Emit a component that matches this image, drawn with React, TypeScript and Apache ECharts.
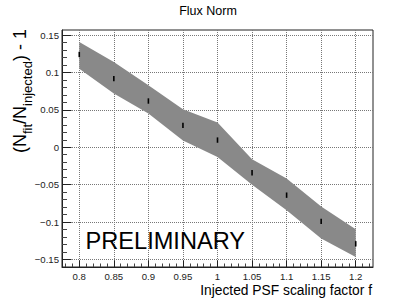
import React, { useEffect, useRef } from "react";
import * as echarts from "echarts";

const fScale = [0.8, 0.85, 0.9, 0.95, 1.0, 1.05, 1.1, 1.15, 1.2];
const fitBias = [0.124, 0.0917, 0.0618, 0.0293, 0.0096, -0.034, -0.064, -0.099, -0.129];
const fitErr = [0.0036, 0.0036, 0.0036, 0.0036, 0.0036, 0.0036, 0.0036, 0.0036, 0.0036];
const bandUpper = [0.1406, 0.114, 0.0828, 0.0507, 0.033, -0.016, -0.0416, -0.079, -0.1096];
const bandLower = [0.105, 0.0717, 0.045, 0.0092, -0.013, -0.05, -0.084, -0.122, -0.1465];

const xMajorTicks = [0.8, 0.85, 0.9, 0.95, 1.0, 1.05, 1.1, 1.15, 1.2];
const yMajorTicks = [-0.15, -0.1, -0.05, 0, 0.05, 0.1, 0.15];

const titleText = "Flux Norm";
const xAxisTitle = "Injected PSF scaling factor f";
const watermark = "PRELIMINARY";

const X_MIN = 0.775;
const X_MAX = 1.225;
const Y_MIN = -0.16;
const Y_MAX = 0.1567;

const FONT = "'Liberation Sans', Arial, Helvetica, sans-serif";

function minorTicks(lo: number, hi: number, majors: number[]) {
  const out: number[] = [];
  for (let k = Math.ceil(lo * 100); k <= Math.floor(hi * 100); k++) {
    const v = k / 100;
    if (v <= lo || v >= hi) continue;
    if (majors.some((m) => Math.abs(m - v) < 1e-9)) continue;
    out.push(v);
  }
  return out;
}

const fmt = (v: number) => {
  const r = Math.round(v * 100) / 100;
  if (r === 0) return "0";
  return String(r).replace("-", "\u2212");
};

export default function App() {
  const ref = useRef<HTMLDivElement>(null);
  useEffect(() => {
    if (!ref.current) return;
    const chart = echarts.init(ref.current, undefined, { renderer: "svg" });
    const xMinor = minorTicks(X_MIN, X_MAX, xMajorTicks);
    const yMinor = minorTicks(Y_MIN, Y_MAX, yMajorTicks);

    const gridLine = { show: true, lineStyle: { color: "#777", type: [1, 1] as any, width: 1 } };

    chart.setOption({
      animation: false,
      textStyle: { fontFamily: FONT },
      grid: {
        left: 62,
        top: 30,
        right: 42,
        bottom: 32,
        show: true,
        borderColor: "#222",
        borderWidth: 1,
        containLabel: false,
        outerBoundsMode: "none",
      },
      xAxis: [
        {
          type: "value",
          min: X_MIN,
          max: X_MAX,
          position: "bottom",
          axisLine: { show: true, onZero: false, lineStyle: { color: "#222", width: 1 } },
          axisTick: {
            show: true,
            inside: true,
            length: 6.5,
            customValues: xMajorTicks,
            lineStyle: { color: "#222", width: 1 },
          },
          axisLabel: {
            show: true,
            customValues: xMajorTicks,
            formatter: fmt,
            fontSize: 9.6,
            color: "#222",
            margin: 4,
            fontFamily: FONT,
          },
          splitLine: gridLine,
        },
        {
          type: "value",
          min: X_MIN,
          max: X_MAX,
          position: "bottom",
          axisLine: { show: false, onZero: false },
          axisTick: {
            show: true,
            inside: true,
            length: 3.5,
            customValues: xMinor,
            lineStyle: { color: "#444", width: 1 },
          },
          axisLabel: { show: false },
          splitLine: { show: false },
        },
      ],
      yAxis: [
        {
          type: "value",
          min: Y_MIN,
          max: Y_MAX,
          position: "left",
          axisLine: { show: true, onZero: false, lineStyle: { color: "#222", width: 1 } },
          axisTick: {
            show: true,
            inside: true,
            length: 9.5,
            customValues: yMajorTicks,
            lineStyle: { color: "#222", width: 1 },
          },
          axisLabel: {
            show: true,
            customValues: yMajorTicks,
            formatter: fmt,
            fontSize: 9.6,
            color: "#222",
            margin: 3,
            fontFamily: FONT,
          },
          splitLine: gridLine,
        },
        {
          type: "value",
          min: Y_MIN,
          max: Y_MAX,
          position: "left",
          axisLine: { show: false, onZero: false },
          axisTick: {
            show: true,
            inside: true,
            length: 5,
            customValues: yMinor,
            lineStyle: { color: "#444", width: 1 },
          },
          axisLabel: { show: false },
          splitLine: { show: false },
        },
      ],
      series: [
        {
          type: "custom",
          xAxisIndex: 0,
          yAxisIndex: 0,
          silent: true,
          z: 2,
          data: [[fScale[0], bandUpper[0]]],
          encode: { x: 0, y: 1 },
          renderItem: (_params: any, api: any) => {
            const pts: number[][] = [];
            for (let i = 0; i < fScale.length; i++) pts.push(api.coord([fScale[i], bandUpper[i]]));
            for (let i = fScale.length - 1; i >= 0; i--) pts.push(api.coord([fScale[i], bandLower[i]]));
            return { type: "polygon", shape: { points: pts }, style: { fill: "#898989" } };
          },
        },
        {
          type: "custom",
          xAxisIndex: 0,
          yAxisIndex: 0,
          silent: true,
          z: 3,
          data: fScale.map((x, i) => [x, fitBias[i], fitErr[i]]),
          encode: { x: 0, y: 1 },
          renderItem: (_params: any, api: any) => {
            const x = api.value(0);
            const y = api.value(1);
            const e = api.value(2);
            const p1 = api.coord([x, y + e]);
            const p2 = api.coord([x, y - e]);
            return {
              type: "line",
              shape: { x1: p1[0], y1: p1[1], x2: p2[0], y2: p2[1] },
              style: { stroke: "#000", lineWidth: 1.6 },
            };
          },
        },
      ],
      graphic: [
        {
          type: "text",
          x: 208,
          y: 11,
          style: {
            text: titleText,
            fontSize: 12.5,
            fontFamily: FONT,
            fill: "#000",
            align: "center",
            verticalAlign: "middle",
          },
        },
        {
          type: "text",
          x: 372,
          y: 290.5,
          style: {
            text: xAxisTitle,
            fontSize: 13.8,
            fontFamily: FONT,
            fill: "#000",
            align: "right",
            verticalAlign: "middle",
          },
        },
        {
          type: "text",
          x: 85.5,
          y: 240.5,
          z: 10,
          style: {
            text: watermark,
            fontSize: 23.6,
            fontFamily: FONT,
            fill: "#000",
            align: "left",
            verticalAlign: "middle",
          },
        },
        {
          type: "text",
          x: 34,
          y: 153,
          rotation: Math.PI / 2,
          style: {
            text: "{m|(N}{s|fit}{m|/N}{s|injected}{m|) - 1}",
            align: "left",
            verticalAlign: "bottom",
            fill: "#000",
            rich: {
              m: { fontSize: 18, lineHeight: 18, padding: [0, 0, 5, 0], verticalAlign: "bottom", fontFamily: FONT, fill: "#000" },
              s: { fontSize: 13, lineHeight: 13, verticalAlign: "bottom", fontFamily: FONT, fill: "#000" },
            },
          },
        },
      ],
    });
    return () => chart.dispose();
  }, []);
  return (
    <div
      ref={ref}
      style={{ position: "absolute", left: 0, top: 0, width: 415, height: 299 }}
    />
  );
}
